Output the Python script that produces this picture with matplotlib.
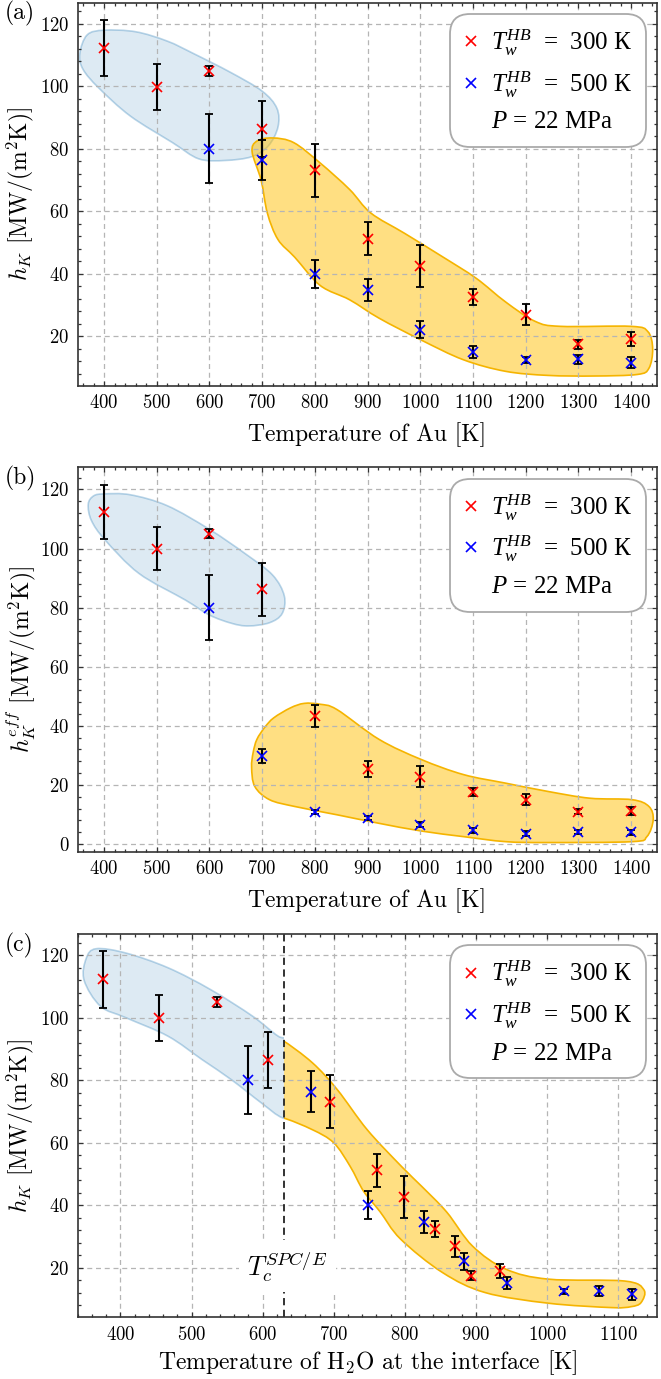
import numpy as np
import matplotlib
matplotlib.use("Agg")
import matplotlib.pyplot as plt
from matplotlib.path import Path
from matplotlib.patches import PathPatch, Rectangle
from matplotlib.font_manager import FontProperties
from matplotlib.ticker import MultipleLocator, AutoMinorLocator

plt.rcParams['font.family'] = ['cmr10', 'Liberation Serif', 'DejaVu Serif']
plt.rcParams['mathtext.fontset'] = 'cm'
plt.rcParams['mathtext.rm'] = 'Liberation Serif'
plt.rcParams['mathtext.it'] = 'Liberation Serif:italic'
plt.rcParams['mathtext.bf'] = 'Liberation Serif:bold'
plt.rcParams['axes.formatter.use_mathtext'] = True

# ---- data ----
T_au_red = [400, 500, 600, 700, 800, 900, 1000, 1100, 1200, 1300, 1400]
T_au_blue = [600, 700, 800, 900, 1000, 1100, 1200, 1300, 1400]

hk_red = [112.3, 99.9, 105.0, 86.4, 73.2, 51.2, 42.6, 32.5, 26.9, 17.5, 19.1]
hk_red_err = [9.1, 7.4, 1.6, 8.9, 8.5, 5.3, 6.7, 2.6, 3.4, 1.4, 2.3]
hk_blue = [80.1, 76.4, 40.0, 34.8, 22.1, 15.1, 12.5, 12.6, 11.6]
hk_blue_err = [11.0, 6.5, 4.5, 3.5, 2.7, 1.9, 0.9, 1.5, 1.8]

heff_red = [112.3, 100.0, 105.0, 86.2, 43.3, 25.5, 22.8, 17.5, 15.0, 10.9, 11.1]
heff_red_err = [9.1, 7.3, 1.5, 8.9, 3.8, 2.7, 3.5, 1.3, 1.9, 0.8, 1.3]
heff_blue = [80.0, 29.8, 10.8, 8.7, 6.6, 4.6, 3.5, 4.0, 3.9]
heff_blue_err = [11.0, 2.5, 0.8, 0.7, 0.9, 0.8, 0.8, 0.7, 0.9]

T_h2o_red = [375, 454, 536, 608, 695, 761, 799, 842, 870, 893, 934]
T_h2o_blue = [579, 668, 748, 827, 883, 944, 1024, 1073, 1119]
T_crit = 630

# region outlines (x, y)
a_blue_region = [(354, 110.5), (368, 116.5), (400, 118), (460, 117.5), (520, 114.5), (570, 110.5),
                 (640, 104.5), (700, 98.5), (728, 93), (730, 87), (712, 81), (680, 77.5), (630, 76.3),
                 (580, 76.8), (530, 82), (450, 90.5), (390, 99.5), (360, 105.5)]
a_gold_region = [(681, 79), (690, 82.5), (720, 83.5), (760, 82), (810, 75.5), (866, 67), (906, 59.5),
                 (970, 53), (1042, 45.5), (1106, 38.6), (1162, 31), (1218, 24.8), (1266, 23.2),
                 (1400, 23.2), (1432, 21.5), (1441, 16), (1434, 9.8), (1412, 7.8), (1330, 7.3),
                 (1242, 7.5), (1162, 8.8), (1082, 12.5), (1002, 18.8), (922, 25.8), (866, 31.7),
                 (810, 36.3), (762, 45.3), (730, 51), (710, 59.4), (698, 70)]
b_blue_region = [(370, 115), (380, 117.8), (400, 118.5), (450, 118.2), (520, 114.5), (600, 106.5),
                 (670, 98), (720, 91), (742, 84), (738, 78), (714, 74.9), (674, 73.8), (642, 74.7),
                 (600, 77.5), (554, 82.6), (466, 91.6), (402, 102.9), (376, 109.5)]
b_gold_region = [(680, 26), (683, 31), (690, 35.4), (705, 39.5), (722, 42.7), (754, 46.1), (780, 47.6),
                 (810, 47.3), (842, 45.5), (922, 35.4), (1002, 28.6), (1082, 23.5), (1162, 20.6),
                 (1242, 17.8), (1322, 15.5), (1402, 15), (1434, 12.7), (1442, 8.2), (1430, 2.5),
                 (1402, 0.8), (1242, 0.5), (1162, 0.8), (1082, 2.5), (1002, 4.4), (922, 7),
                 (842, 9.9), (762, 12.7), (714, 15), (686, 19.5)]
c_blue_region = [(349, 112), (352, 119), (366, 122.1), (408, 120.7), (467, 116), (527, 109),
                 (586, 100.5), (622, 94.1), (650, 91), (655, 68), (628, 68), (598, 72.8),
                 (556, 80.2), (515, 86.6), (467, 94.1), (408, 100), (372, 103.7)]
c_gold_region = [(615, 93.5), (628, 92.8), (670, 85.6), (705, 77), (747, 64.2), (795, 52.5), (824, 46),
                 (859, 37.8), (895, 27), (942, 19.6), (1002, 16.4), (1109, 15.8), (1136, 13),
                 (1132, 8.9), (1118, 7.6), (1091, 7.3), (1002, 8.7), (913, 12.1), (853, 18.5),
                 (794, 29.2), (765, 38), (742, 44.5), (723, 52.5), (700, 60), (670, 64.2),
                 (628, 68), (615, 67)]

BLUE_FILL = (0.122, 0.467, 0.706, 0.15)
BLUE_EDGE = (0.122, 0.467, 0.706, 0.30)
GOLD_FILL = (1.0, 0.757, 0.027, 0.5)
GOLD_EDGE = '#f5b400'


def smooth_region(ax, pts, fc, ec, clip=None):
    # closed Catmull-Rom curve through the outline points, as cubic Beziers
    p = np.asarray(pts, float)
    n = len(p)
    verts = [p[0]]
    codes = [Path.MOVETO]
    for i in range(n):
        p0, p1, p2, p3 = p[i - 1], p[i], p[(i + 1) % n], p[(i + 2) % n]
        verts += [p1 + (p2 - p0) / 6, p2 - (p3 - p1) / 6, p2]
        codes += [Path.CURVE4] * 3
    patch = PathPatch(Path(verts, codes), facecolor=fc, edgecolor=ec, lw=1.2, zorder=1)
    ax.add_patch(patch)
    if clip is not None:
        rect = Rectangle((clip[0], -100), clip[1] - clip[0], 400, transform=ax.transData)
        patch.set_clip_path(rect)


def style(ax, xlim, ylim):
    ax.set_xlim(*xlim)
    ax.set_ylim(*ylim)
    ax.xaxis.set_major_locator(MultipleLocator(100))
    ax.yaxis.set_major_locator(MultipleLocator(20))
    ax.xaxis.set_minor_locator(AutoMinorLocator(5))
    ax.yaxis.set_minor_locator(AutoMinorLocator(5))
    ax.tick_params(which='both', direction='in', top=True, right=True, labelsize=13.5,
                   color='#333333', width=0.9)
    ax.tick_params(which='major', length=3.5, pad=6)
    ax.tick_params(which='minor', length=2)
    ax.grid(True, which='major', color='#b5b5b5', lw=0.9, ls=(0, (4, 3)))
    for s in ax.spines.values():
        s.set_linewidth(1.2)
        s.set_color('#333333')


def points(ax, xr, yr, er, xb, yb, eb):
    kw = dict(fmt='none', ecolor='black', elinewidth=1.5, capsize=3.2, capthick=1.3, zorder=3)
    ax.errorbar(xr, yr, yerr=er, **kw)
    ax.errorbar(xb, yb, yerr=eb, **kw)
    ax.plot(xr, yr, 'x', color='red', ms=6.5, mew=1.2, zorder=4, label='$T_w^{HB}$  =  300 К')
    ax.plot(xb, yb, 'x', color='blue', ms=6.5, mew=1.2, zorder=4, label='$T_w^{HB}$  =  500 К')
    ax.plot([], [], ' ', label='$P$ = 22 MPa')
    prop = FontProperties(family='Liberation Serif', size=18, math_fontfamily='custom')
    leg = ax.legend(loc='upper right', prop=prop, handlelength=0.6, handletextpad=0.5,
                    labelspacing=0.45, borderpad=0.55, borderaxespad=0.45, framealpha=1,
                    edgecolor='#aaaaaa', fancybox=True)
    leg.get_frame().set_boxstyle('round', pad=0, rounding_size=0.8)
    leg.get_frame().set_linewidth(1.3)


H = 1379.0
WPX = 661.0
L = 77.7 / WPX
Wd = (657.4 - 77.7) / WPX
fig = plt.figure(figsize=(6.61, 13.79), dpi=100)


def add_axes(top, bot, tag):
    ax = fig.add_axes([L, 1 - bot / H, Wd, (bot - top) / H])
    fig.text(5 / WPX, 1 - (top + 11) / H, tag, fontsize=17, va='center', ha='left')
    return ax


ylab = r'$h_K$ [MW/(m$^2$K)]'

# (a)
ax1 = add_axes(2.7, 385.7, '(a)')
smooth_region(ax1, a_blue_region, BLUE_FILL, BLUE_EDGE)
smooth_region(ax1, a_gold_region, GOLD_FILL, GOLD_EDGE)
points(ax1, T_au_red, hk_red, hk_red_err, T_au_blue, hk_blue, hk_blue_err)
style(ax1, (350, 1450), (4.2, 126.8))
ax1.set_xlabel('Temperature of Au [K]', fontsize=17, labelpad=7)
ax1.set_ylabel(ylab, fontsize=17, labelpad=3)

# (b)
ax2 = add_axes(467.3, 851.7, '(b)')
smooth_region(ax2, b_blue_region, BLUE_FILL, BLUE_EDGE)
smooth_region(ax2, b_gold_region, GOLD_FILL, GOLD_EDGE)
points(ax2, T_au_red, heff_red, heff_red_err, T_au_blue, heff_blue, heff_blue_err)
style(ax2, (350, 1450), (-2.6, 127.5))
ax2.set_xlabel('Temperature of Au [K]', fontsize=17, labelpad=7)
ax2.set_ylabel(r'$h_K^{eff}$ [MW/(m$^2$K)]', fontsize=17, labelpad=1)

# (c)
ax3 = add_axes(934.0, 1317.3, '(c)')
smooth_region(ax3, c_blue_region, BLUE_FILL, BLUE_EDGE, clip=(0, T_crit))
smooth_region(ax3, c_gold_region, GOLD_FILL, GOLD_EDGE, clip=(T_crit, 2000))
points(ax3, T_h2o_red, hk_red, hk_red_err, T_h2o_blue, hk_blue, hk_blue_err)
ax3.axvline(T_crit, color='#222222', ls=(0, (4, 2.5)), lw=1.3, zorder=2.5)
ax3.text(T_crit + 5, 20.5, r'$T_c^{SPC/E}$', fontsize=19, ha='center', va='center', zorder=5,
         bbox=dict(facecolor='white', edgecolor='none', pad=6))
style(ax3, (340, 1155), (4.2, 126.8))
ax3.set_xlabel(r'Temperature of H$_2$O at the interface [K]', fontsize=17, labelpad=3)
ax3.set_ylabel(ylab, fontsize=17, labelpad=3)

fig.savefig('out.png', dpi=100)
